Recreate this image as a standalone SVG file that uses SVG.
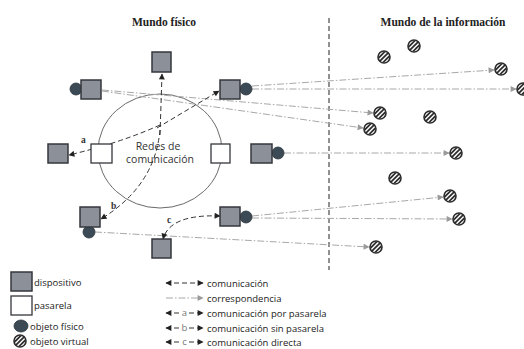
<svg xmlns="http://www.w3.org/2000/svg" xmlns:xlink="http://www.w3.org/1999/xlink" width="524" height="349" viewBox="0 0 524 349">
<style>
.title{font-family:"Liberation Serif",serif;font-weight:bold;font-size:11.5px;fill:#222;text-anchor:middle}
.lbl{font-family:"Liberation Serif",serif;font-weight:bold;font-size:9.5px;fill:#333}
.net{font-family:"Open Sans",sans-serif;font-size:10.5px;fill:#333;text-anchor:middle}
.leg{font-family:"Open Sans",sans-serif;font-size:9.5px;fill:#222}
.legl{font-family:"Open Sans",sans-serif;font-size:9.5px;fill:#777;text-anchor:middle}
.dev{fill:#8b9099;stroke:#34373c;stroke-width:1.5}
.gw{fill:#fff;stroke:#34373c;stroke-width:1.3}
.phy{fill:#3b4a55;stroke:#2a343b;stroke-width:0.8}
.com{fill:none;stroke:#333;stroke-width:1;stroke-dasharray:5,3}
.cor{fill:none;stroke:#a8a8a8;stroke-width:1;stroke-dasharray:7,2,1.5,2}
</style>
<defs>
<marker id="ab" viewBox="0 0 10 10" refX="9" refY="5" markerWidth="7" markerHeight="6" markerUnits="userSpaceOnUse" orient="auto-start-reverse"><path d="M0,0 L10,5 L0,10 z" fill="#222"/></marker>
<marker id="ag" viewBox="0 0 10 10" refX="9" refY="5" markerWidth="7" markerHeight="6" markerUnits="userSpaceOnUse" orient="auto-start-reverse"><path d="M0,0 L10,5 L0,10 z" fill="#9a9a9a"/></marker>
<clipPath id="vc"><circle cx="0" cy="0" r="5.6"/></clipPath>
<g id="vo">
<circle cx="0" cy="0" r="6" fill="#fff" stroke="#2b2b2b" stroke-width="1.6"/>
<g clip-path="url(#vc)" stroke="#2b2b2b" stroke-width="1.7">
<line x1="-8" y1="3.5" x2="3.5" y2="-8"/>
<line x1="-7" y1="7" x2="7" y2="-7"/>
<line x1="-3.5" y1="8" x2="8" y2="-3.5"/>
</g>
</g>
</defs>
<rect width="524" height="349" fill="#fff"/>

<text class="title" x="164" y="26">Mundo físico</text>
<text class="title" x="443" y="26">Mundo de la información</text>
<line x1="329" y1="18" x2="329" y2="270" stroke="#222" stroke-width="1" stroke-dasharray="5,3"/>

<g id="network">
<ellipse cx="160" cy="151" rx="62" ry="57" fill="none" stroke="#6a6a6a" stroke-width="1"/>
<text class="net" x="158" y="150">Redes de</text>
<text class="net" x="160" y="163">comunicación</text>
</g>

<g id="connectors">
<path class="cor" d="M252,86 L494,70" marker-end="url(#ag)"/>
<path class="cor" d="M252,89 L516,89" marker-end="url(#ag)"/>
<path class="cor" d="M102,90 L373,113" marker-end="url(#ag)"/>
<path class="cor" d="M102,91 L363,128" marker-end="url(#ag)"/>
<path class="cor" d="M284,153 L449,153" marker-end="url(#ag)"/>
<path class="cor" d="M252,216 L443,197" marker-end="url(#ag)"/>
<path class="cor" d="M252,218 L452,219" marker-end="url(#ag)"/>
<path class="cor" d="M95,232 L369,247" marker-end="url(#ag)"/>
<path class="com" d="M160,135 L162,74" marker-end="url(#ab)"/>
<path class="com" d="M157,128 L219,91" marker-end="url(#ab)"/>
<path class="com" d="M160,125 Q120,143 69,155" marker-end="url(#ab)"/>
<path class="com" d="M160,130 Q155,186 101,219" marker-end="url(#ab)"/>
<path class="com" d="M220,216 Q170,214 163,239" marker-start="url(#ab)" marker-end="url(#ab)"/>
<text class="lbl" x="81" y="143">a</text>
<text class="lbl" x="111" y="209">b</text>
<text class="lbl" x="167" y="223">c</text>
</g>

<g id="dev-top"><rect class="dev" x="152" y="52" width="19" height="20"/></g>
<g id="dev-topleft"><circle class="phy" cx="76" cy="89" r="6"/><rect class="dev" x="81" y="80" width="20" height="19"/></g>
<g id="dev-topright"><circle class="phy" cx="246" cy="89" r="6"/><rect class="dev" x="220" y="80" width="20" height="19"/></g>
<g id="dev-left"><rect class="dev" x="48" y="144" width="20" height="19"/></g>
<g id="gw-left"><rect class="gw" x="91" y="144" width="21" height="19"/></g>
<g id="gw-right"><rect class="gw" x="211" y="144" width="19" height="19"/></g>
<g id="dev-right"><circle class="phy" cx="278" cy="153" r="6"/><rect class="dev" x="251" y="144" width="21" height="19"/></g>
<g id="dev-lowleft"><circle class="phy" cx="89" cy="232" r="6"/><rect class="dev" x="80" y="207" width="20" height="20"/></g>
<g id="dev-lowright"><circle class="phy" cx="246" cy="217" r="6"/><rect class="dev" x="220" y="207" width="20" height="19"/></g>
<g id="dev-bottom"><rect class="dev" x="152" y="239" width="19" height="19"/></g>

<g id="virtual-objects">
<use href="#vo" x="384" y="57"/>
<use href="#vo" x="414" y="46"/>
<use href="#vo" x="501" y="69"/>
<use href="#vo" x="523" y="89"/>
<use href="#vo" x="380" y="113"/>
<use href="#vo" x="430" y="117"/>
<use href="#vo" x="370" y="129"/>
<use href="#vo" x="456" y="153"/>
<use href="#vo" x="395" y="178"/>
<use href="#vo" x="450" y="196"/>
<use href="#vo" x="459" y="219"/>
<use href="#vo" x="376" y="247"/>
</g>

<g id="legend">
<rect class="dev" x="11" y="272" width="21" height="19"/>
<text class="leg" x="34" y="286">dispositivo</text>
<rect class="gw" x="11" y="296" width="21" height="19"/>
<text class="leg" x="34" y="309">pasarela</text>
<ellipse class="phy" cx="21" cy="326" rx="7" ry="6"/>
<text class="leg" x="30" y="329.5">objeto físico</text>
<use href="#vo" x="20" y="341"/>
<text class="leg" x="30" y="344.5">objeto virtual</text>

<path class="com" d="M166,283 L203,283" marker-start="url(#ab)" marker-end="url(#ab)"/>
<text class="leg" x="207" y="286.5">comunicación</text>
<path class="cor" d="M166,298 L203,298" marker-end="url(#ag)"/>
<text class="leg" x="207" y="301.5">correspondencia</text>
<path class="com" d="M166,313 L180,313 M189,313 L203,313" marker-start="url(#ab)" marker-end="url(#ab)"/>
<text class="legl" x="184.5" y="316">a</text>
<text class="leg" x="207" y="316.5">comunicación por pasarela</text>
<path class="com" d="M166,328 L180,328 M189,328 L203,328" marker-start="url(#ab)" marker-end="url(#ab)"/>
<text class="legl" x="184.5" y="331">b</text>
<text class="leg" x="207" y="331.5">comunicación sin pasarela</text>
<path class="com" d="M166,342 L180,342 M189,342 L203,342" marker-start="url(#ab)" marker-end="url(#ab)"/>
<text class="legl" x="184.5" y="345">c</text>
<text class="leg" x="207" y="345.5">comunicación directa</text>
</g>
</svg>
